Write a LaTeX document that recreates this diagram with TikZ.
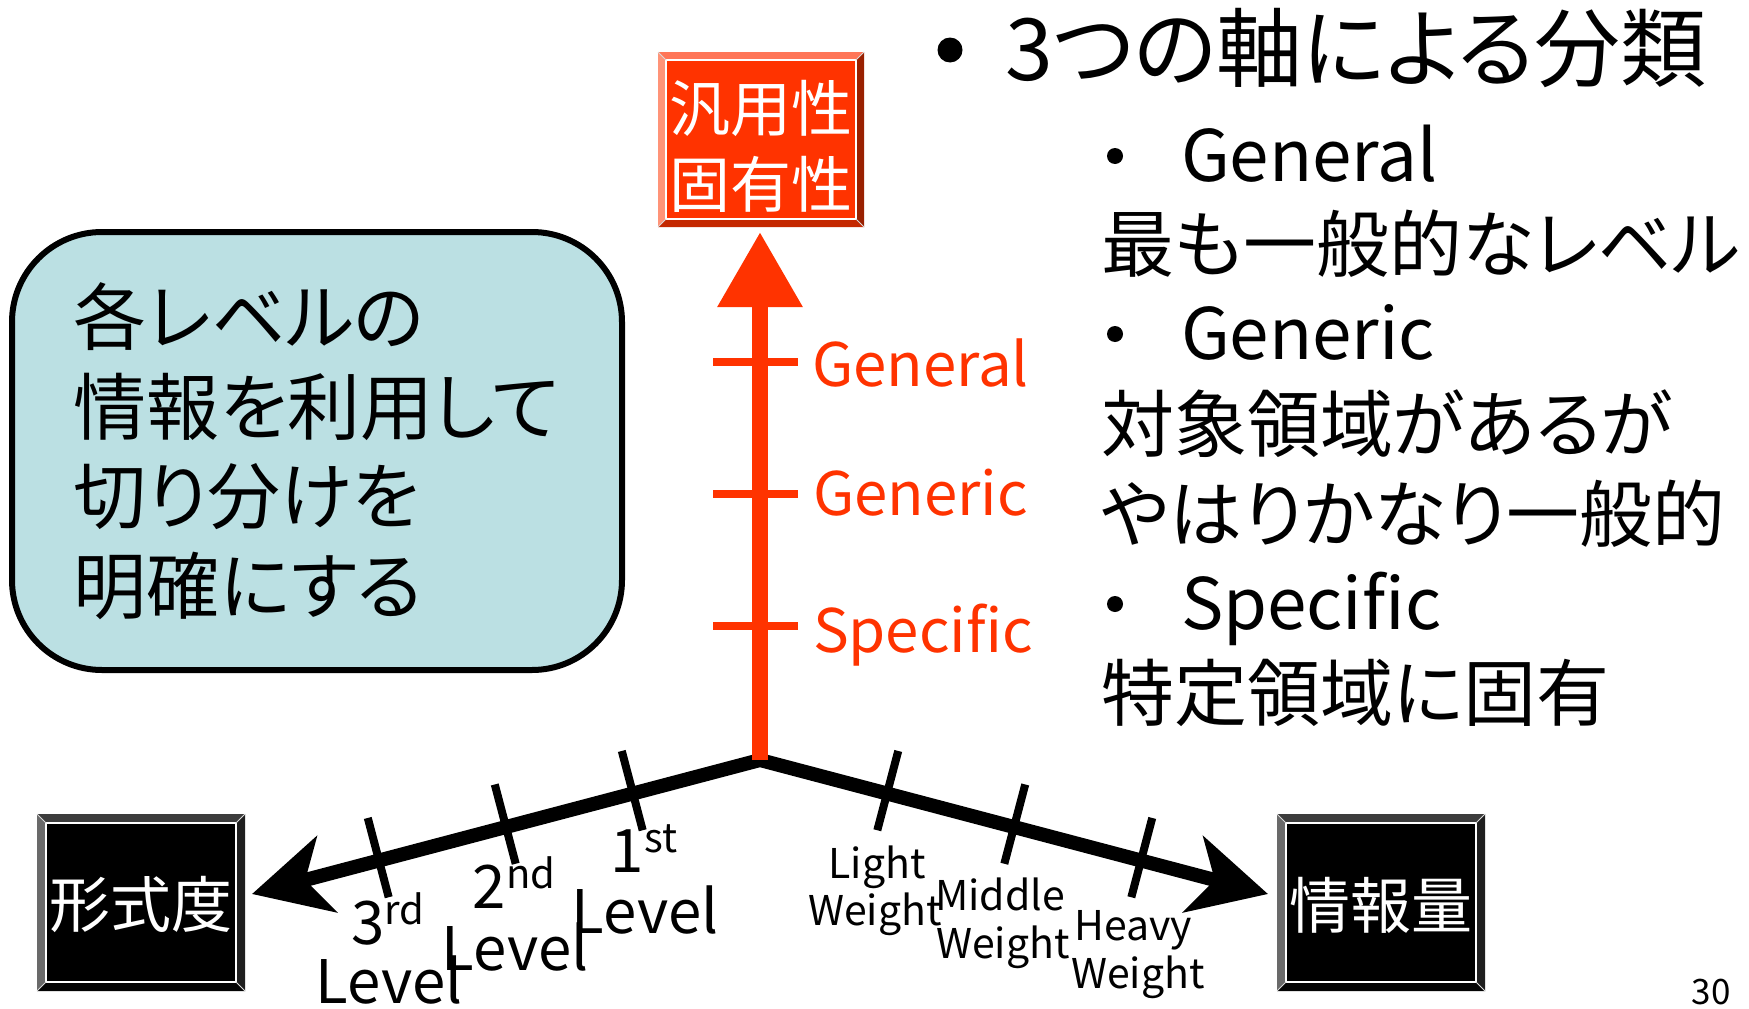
\documentclass[tikz,border=0pt]{standalone}
\usepackage{fontspec}
\setmainfont{Noto Sans CJK JP}
\newfontfamily\jpp{Noto Sans CJK JP}[RawFeature=+palt]
\usetikzlibrary{arrows.meta,calc}
\definecolor{axred}{HTML}{FF3300}
\definecolor{notebg}{HTML}{BBE0E3}
\definecolor{rtop}{HTML}{FF7658}
\definecolor{rleft}{HTML}{FF9478}
\definecolor{rright}{HTML}{992000}
\definecolor{rbottom}{HTML}{C42800}
\definecolor{ktop}{HTML}{3C3C3C}
\definecolor{kleft}{HTML}{6A6A6A}
\definecolor{kright}{HTML}{1E1E1E}
\definecolor{kbottom}{HTML}{050505}
\newcommand\fsz[2]{\fontsize{#1}{#2}\selectfont}
\newcommand\hisup[1]{\raisebox{20pt}{\fontsize{40}{40}\selectfont #1}}
\newcommand\bevel[6]{%
 \fill[#3] ([shift={(-#2,-#2)}]#1.north west) -- ([shift={(#2,-#2)}]#1.north east) -- (#1.north east) -- (#1.north west) -- cycle;
 \fill[#4] ([shift={(-#2,-#2)}]#1.north west) -- (#1.north west) -- (#1.south west) -- ([shift={(-#2,#2)}]#1.south west) -- cycle;
 \fill[#5] ([shift={(#2,-#2)}]#1.north east) -- ([shift={(#2,#2)}]#1.south east) -- (#1.south east) -- (#1.north east) -- cycle;
 \fill[#6] ([shift={(-#2,#2)}]#1.south west) -- (#1.south west) -- (#1.south east) -- ([shift={(#2,#2)}]#1.south east) -- cycle;
 \draw[white,line width=1.2pt] (#1.north west) rectangle (#1.south east);
 \draw[white!70!gray,line width=0.8pt] ([shift={(-#2,-#2)}]#1.north west) -- (#1.north west)
   ([shift={(#2,-#2)}]#1.north east) -- (#1.north east)
   ([shift={(#2,#2)}]#1.south east) -- (#1.south east)
   ([shift={(-#2,#2)}]#1.south west) -- (#1.south west);
}
\begin{document}
\begin{tikzpicture}[x=1pt,y=-1pt,
  txt/.style={inner sep=0pt,outer sep=0pt,anchor=base west},
  ctr/.style={inner sep=0pt,outer sep=0pt,anchor=base},
  face/.style={inner sep=0pt,outer sep=0pt,minimum width=190pt,minimum height=159pt},
  facetext/.style={inner sep=0pt,outer sep=0pt,text=white,align=center},
  blackaxis/.style={line width=14pt,line join=miter,
     {Stealth[length=77pt,width=78pt,inset=22pt]}-{Stealth[length=77pt,width=78pt,inset=22pt]}},
  redaxis/.style={line width=16pt,color=axred,-{Triangle[length=75pt,width=81pt]}},
  ktick/.style={line width=8pt,black},
  rtick/.style={line width=8pt,axred},
  redlbl/.style={txt,text=axred,font=\fsz{60}{60}},
  lvl/.style={ctr,font=\fsz{60}{60}},
  wgt/.style={ctr,font=\fsz{41}{41}},
  bul/.style={circle,fill=black,inner sep=0pt,outer sep=0pt},
  jp/.style={txt,font=\jpp\fsz{73}{73}},
  lat/.style={txt,font=\fsz{71}{71}}
]
\fill[white] (0,0) rectangle (1749,1009);
\useasboundingbox (0,0) rectangle (1749,1009);

% note box
\node[draw=black,line width=6pt,fill=notebg,rounded corners=90pt,
      minimum width=610pt,minimum height=438pt,align=left,inner sep=0pt,
      font=\jpp\fsz{73}{89.5}] (note) at (317,451)
  {各レベルの\\情報を利用して\\切り分けを\\明確にする};

% axes
\coordinate (O) at (760,760);
\coordinate (L) at (252,894);
\coordinate (R) at (1268,894);
\coordinate (T) at (760,232);
\draw[blackaxis] (L) -- (O) -- (R);
\foreach \t/\n in {0.25/l1,0.5/l2,0.75/l3}{
  \coordinate (\n) at ($(O)!\t!(L)$);
  \draw[ktick] ($(\n)!44pt!-90:(L)$) -- ($(\n)!38pt!90:(L)$);
}
\foreach \t/\n in {0.25/r1,0.5/r2,0.75/r3}{
  \coordinate (\n) at ($(O)!\t!(R)$);
  \draw[ktick] ($(\n)!44pt!90:(R)$) -- ($(\n)!38pt!-90:(R)$);
}
\draw[redaxis] (O) -- (T);
\draw[rtick] (713,362) -- (798,362);
\draw[rtick] (713,494) -- (798,494);
\draw[rtick] (713,626) -- (798,626);

\node[redlbl] (rg1) at (812,386) {General};
\node[redlbl] (rg2) at (813,515) {Generic};
\node[redlbl] (rg3) at (813,652) {Specific};

% boxes
\node[face,fill=axred] (gen) at (761,139.5) {};
\bevel{gen}{8}{rtop}{rleft}{rright}{rbottom}
\node[facetext,font=\fsz{61}{76}] (gentxt) at (761,146) {汎用性\\固有性};
\node[face,fill=black] (form) at (141,902.5) {};
\bevel{form}{9}{ktop}{kleft}{kright}{kbottom}
\node[facetext,font=\fsz{61}{61}] (formtxt) at (141,904) {形式度};
\node[face,fill=black] (info) at (1381,902.5) {};
\bevel{info}{9}{ktop}{kleft}{kright}{kbottom}
\node[facetext,font=\fsz{61}{61}] (infotxt) at (1381,905) {情報量};

% level labels
\node[lvl] (lv1a) at (644,872) {1\hisup{st}};
\node[lvl] (lv1b) at (645,933) {Level};
\node[lvl] (lv2a) at (514,908) {2\hisup{nd}};
\node[lvl] (lv2b) at (515,970) {Level};
\node[lvl] (lv3a) at (388,944) {3\hisup{rd}};
\node[lvl] (lv3b) at (389,1003) {Level};

\node[wgt] (w1a) at (877,878) {Light};
\node[wgt] (w1b) at (875,925) {Weight};
\node[wgt] (w2a) at (1000,910) {Middle};
\node[wgt] (w2b) at (1003,958) {Weight};
\node[wgt] (w3a) at (1133,940) {Heavy};
\node[wgt] (w3b) at (1138,988) {Weight};

% right text
\node[bul,minimum size=25pt] (b0) at (950,50) {};
\node[txt,font=\jpp\fsz{86}{86}] (title) at (1005,80) {3つの軸による分類};
\node[bul,minimum size=16pt] (b1) at (1115,156) {};
\node[lat] (t1) at (1181,181) {General};
\node[jp] (t2) at (1101,271) {最も一般的なレベル};
\node[bul,minimum size=16pt] (b2) at (1115,334) {};
\node[lat] (t3) at (1181,359) {Generic};
\node[jp] (t4) at (1101,451) {対象領域があるが};
\node[jp] (t5) at (1101,541) {やはりかなり一般的};
\node[bul,minimum size=16pt] (b3) at (1115,604) {};
\node[lat] (t6) at (1181,629) {Specific};
\node[jp] (t7) at (1101,720) {特定領域に固有};

\node[ctr,font=\fsz{35}{35}] (pg) at (1711,1004) {30};
\end{tikzpicture}
\end{document}
